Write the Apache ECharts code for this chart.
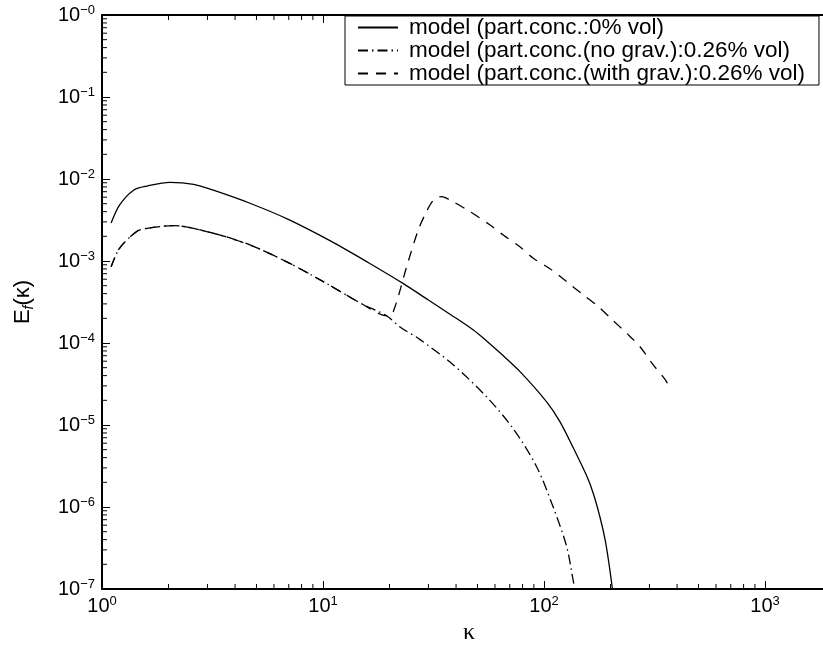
<!DOCTYPE html>
<html>
<head>
<meta charset="utf-8">
<script src="https://cdn.jsdelivr.net/npm/echarts@6/dist/echarts.min.js"></script>
<style>
  html, body { margin: 0; padding: 0; background: #fff; }
  #chart { width: 823px; height: 647px; }
</style>
</head>
<body>
<div id="chart"></div>
<script>
// values
const kappaPure = [1.1, 1.2, 1.39, 1.6, 2.03, 2.6, 3.19, 4.67, 7, 10.8, 16, 23.1, 30, 38, 47.9, 55, 63.2, 77.9, 103, 118, 136, 156, 167, 179, 189, 197, 204];
const efPure = [2.9e-3, 4.8e-3, 7.3e-3, 8.2e-3, 9.1e-3, 8.6e-3, 7.3e-3, 5.06e-3, 3.2e-3, 1.76e-3, 9.6e-4, 5.3e-4, 3.34e-4, 2.2e-4, 1.44e-4, 1.06e-4, 7.6e-5, 4.47e-5, 1.9e-5, 1.1e-5, 5.2e-6, 2.4e-6, 1.47e-6, 7.6e-7, 4.0e-7, 2.0e-7, 1.0e-7];

const kappaNoGrav = [1.1, 1.2, 1.44, 1.6, 2.1, 3.19, 4.67, 7, 10.4, 15, 19.4, 22.3, 27.5, 38.9, 55, 72.6, 92.6, 110, 126.6, 135, 136.5];
const efNoGrav = [8.5e-4, 1.43e-3, 2.3e-3, 2.5e-3, 2.7e-3, 2.18e-3, 1.57e-3, 9.5e-4, 5.3e-4, 3.0e-4, 2.15e-4, 1.57e-4, 1.1e-4, 5.4e-5, 2.2e-5, 9.0e-6, 3.1e-6, 1.0e-6, 3.3e-7, 1.35e-7, 1.15e-7];

// with gravity: same as no-grav curve up to kappa = 19.4, then this tail
const gravSplit = 19.4;
const kappaGravTail = [20.3, 21.0, 21.9, 23.9, 27, 29.4, 31.6, 34.4, 38.2, 46.3, 57, 65.4, 77.8, 89.5, 106, 126.6, 148, 173, 204, 237, 272, 309, 353, 362];
const efGravTail = [2.15e-4, 2.6e-4, 3.67e-4, 8.5e-4, 2.4e-3, 4.0e-3, 5.5e-3, 6.1e-3, 5.4e-3, 4.0e-3, 2.75e-3, 2.07e-3, 1.49e-3, 1.08e-3, 8.1e-4, 5.6e-4, 4.0e-4, 2.9e-4, 1.91e-4, 1.31e-4, 9.0e-5, 5.6e-5, 3.6e-5, 3.2e-5];

const seriesNames = [
  'model (part.conc.:0% vol)',
  'model (part.conc.(no grav.):0.26% vol)',
  'model (part.conc.(with grav.):0.26% vol)'
];

const X_MIN = 1, X_MAX = 1888;
const Y_MIN = 1e-7, Y_MAX = 1;
const FONT = '"Liberation Sans", Arial, sans-serif';

const pairs = (xs, ys) => xs.map((x, i) => [x, ys[i]]);

const headCount = kappaNoGrav.filter(k => k <= gravSplit).length;
const kappaGrav = kappaNoGrav.slice(0, headCount).concat(kappaGravTail);
const efGrav = efNoGrav.slice(0, headCount).concat(efGravTail);

// minor tick positions 2..9 in each decade
const xMinor = [];
for (let k = 0; k <= 3; k++) {
  for (let m = 2; m <= 9; m++) {
    const v = m * Math.pow(10, k);
    if (v < X_MAX) xMinor.push([v, Y_MIN]);
  }
}
const yMinor = [];
for (let k = -7; k <= -1; k++) {
  for (let m = 2; m <= 9; m++) yMinor.push([X_MIN, m * Math.pow(10, k)]);
}

const tickRich = {
  b: { fontFamily: FONT, fontSize: 20, lineHeight: 22, color: '#000' },
  s: { fontFamily: FONT, fontSize: 13, lineHeight: 13, verticalAlign: 'top', color: '#000' }
};

const isPow = v => Math.abs(Math.log10(v) - Math.round(Math.log10(v))) < 1e-6;

const xLabel = v => {
  if (!isPow(v)) return '';
  return '{b|10}{s|' + Math.round(Math.log10(v)) + '}';
};
const yLabel = v => {
  if (!isPow(v)) return '';
  return '{b|10}{s|\u2212' + Math.abs(Math.round(Math.log10(v))) + '}';
};

const tickLine = (x1, y1, x2, y2) => ({
  type: 'line',
  shape: { x1, y1, x2, y2 },
  style: { stroke: '#000', lineWidth: 1 }
});

const curveStyle = type => ({ color: '#000', width: 1.3, type });

const axisBase = {
  type: 'log',
  logBase: 10,
  axisLine: { lineStyle: { color: '#000', width: 2 } },
  axisTick: { inside: true, length: 8, lineStyle: { color: '#000', width: 1 } },
  splitLine: { show: false },
  minorTick: { show: false }
};

const chart = echarts.init(document.getElementById('chart'), null, { renderer: 'canvas' });

chart.setOption({
  animation: false,
  backgroundColor: '#fff',
  color: ['#000', '#000', '#000'],
  grid: { left: 102, top: 15, width: 724, height: 574, containLabel: false, outerBoundsMode: 'none' },
  legend: {
    data: seriesNames,
    orient: 'vertical',
    left: 345,
    top: 16,
    itemWidth: 40,
    itemHeight: 12,
    itemGap: 0,
    padding: [0, 14, 0, 12],
    backgroundColor: '#fff',
    borderColor: '#000',
    borderWidth: 1,
    borderRadius: 0,
    selectedMode: false,
    // hide the marker circle, keep only the line sample
    itemStyle: { color: 'rgba(0,0,0,0)', borderWidth: 0, opacity: 0 },
    textStyle: { fontFamily: FONT, fontSize: 22.5, lineHeight: 20.5, color: '#000', padding: [0, 0, 0, 6] }
  },
  xAxis: [
    Object.assign({}, axisBase, {
      position: 'bottom',
      min: X_MIN,
      max: X_MAX,
      name: 'κ',
      nameLocation: 'middle',
      nameGap: 29,
      nameTextStyle: { fontFamily: '"Liberation Serif", serif', fontSize: 24, color: '#000', padding: [0, 0, 0, 10] },
      axisLabel: { formatter: xLabel, margin: 6, rich: tickRich, showMinLabel: true, showMaxLabel: true }
    }),
    Object.assign({}, axisBase, {
      position: 'top',
      min: X_MIN,
      max: X_MAX,
      axisLabel: { show: false }
    })
  ],
  yAxis: Object.assign({}, axisBase, {
    min: Y_MIN,
    max: Y_MAX,
    name: '{e|E}{f|f}{e|(κ)}',
    nameLocation: 'middle',
    nameGap: 66,
    nameTextStyle: {
      rich: {
        e: { fontFamily: FONT, fontSize: 22, lineHeight: 26, color: '#000' },
        f: { fontFamily: FONT, fontSize: 14, lineHeight: 12, fontStyle: 'italic', verticalAlign: 'bottom', color: '#000' }
      }
    },
    axisLabel: { formatter: yLabel, margin: 7, rich: tickRich, showMinLabel: true, showMaxLabel: true }
  }),
  series: [
    {
      name: seriesNames[0],
      type: 'line',
      data: pairs(kappaPure, efPure),
      symbol: 'none',
      smooth: 0.3,
      itemStyle: { color: '#000' },
      lineStyle: curveStyle('solid'),
      z: 3
    },
    {
      name: seriesNames[1],
      type: 'line',
      data: pairs(kappaNoGrav, efNoGrav),
      symbol: 'none',
      smooth: 0.3,
      itemStyle: { color: '#000' },
      lineStyle: curveStyle([10, 4, 1.5, 4]),
      z: 3
    },
    {
      name: seriesNames[2],
      type: 'line',
      data: pairs(kappaGrav, efGrav),
      symbol: 'none',
      smooth: 0.3,
      itemStyle: { color: '#000' },
      lineStyle: curveStyle([10, 8]),
      z: 3
    },
    {
      // minor ticks on the bottom and top axes
      type: 'custom',
      silent: true,
      clip: false,
      data: xMinor,
      renderItem: (params, api) => {
        const v = api.value(0);
        const b = api.coord([v, Y_MIN]);
        const t = api.coord([v, Y_MAX]);
        return {
          type: 'group',
          children: [tickLine(b[0], b[1], b[0], b[1] - 5), tickLine(t[0], t[1], t[0], t[1] + 5)]
        };
      }
    },
    {
      // minor ticks on the left axis
      type: 'custom',
      silent: true,
      clip: false,
      data: yMinor,
      renderItem: (params, api) => {
        const p = api.coord([X_MIN, api.value(1)]);
        return tickLine(p[0], p[1], p[0] + 5, p[1]);
      }
    }
  ]
});
</script>
</body>
</html>
